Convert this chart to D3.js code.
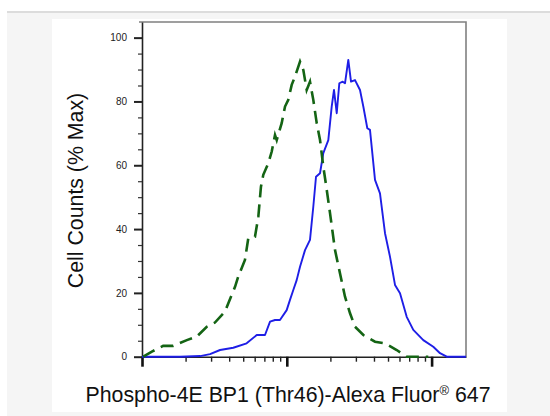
<!DOCTYPE html>
<html lang="en">
<head>
<meta charset="UTF-8">
<title>Phospho-4E BP1 (Thr46) flow histogram</title>
<script src="https://d3js.org/d3.v7.min.js"></script>
<style>
    body {
        margin: 0;
        padding: 0;
        background: #fff;
        overflow: hidden;
    }
    svg {
        display: block;
        font-family: "Liberation Sans", Arial, sans-serif;
    }
    .tick text {
        font-size: 10px;
        fill: #222;
    }
    .axis-title {
        font-size: 21.3px;
        fill: #111;
    }
</style>
</head>
<body>
<svg id="chart" width="550" height="416"></svg>
<script>
    // axis ticks
    const xMajorTicks = [100, 1000, 10000];
    const yTickLabels = [0, 20, 40, 60, 80, 100];

    // stained sample (solid blue) : fluorescence, % max
    const stainedX = [100, 183, 252, 295, 346, 427, 528, 620, 707, 766, 829, 897, 998, 1052, 1109, 1170, 1234, 1336, 1446, 1524, 1591, 1696, 1787, 1935, 2042, 2118, 2212, 2305, 2433, 2523, 2659, 2776, 2958, 3203, 3376, 3597, 3754, 4066, 4401, 4767, 5162, 5588, 6051, 6730, 7474, 8760, 10270, 11430, 12720, 14910, 17280];
    const stainedY = [0, 0, 0.2, 0.8, 2.1, 2.8, 4.2, 6.8, 6.8, 11, 11.5, 11.5, 14.6, 17.8, 20.9, 24, 28.2, 33.4, 36.6, 47, 56.4, 57.5, 63.8, 67.9, 78.4, 83.6, 76.3, 85.7, 86.2, 85.7, 93, 86.2, 86.7, 83.6, 78.4, 71.6, 71.1, 55.4, 51.2, 38.7, 31.3, 22.5, 19.9, 12.5, 8.4, 5.2, 3.1, 1.1, 0, 0, 0];

    // isotype control (dashed green)
    const controlX = [102, 117, 140, 164, 204, 239, 280, 319, 374, 394, 439, 462, 514, 542, 603, 636, 663, 688, 745, 787, 829, 852, 922, 972, 1024, 1081, 1139, 1234, 1300, 1372, 1446, 1524, 1609, 1696, 1787, 1887, 1988, 2153, 2331, 2523, 2733, 2958, 3376, 4066, 4767, 5741, 6730, 9490];
    const controlY = [0, 1.6, 3.4, 3.4, 5.2, 6.3, 9.4, 10.7, 14.1, 16.7, 21.9, 25.1, 30.3, 37.1, 37.6, 43.9, 53.3, 57, 60.6, 64.3, 69.5, 67.9, 73.2, 78.4, 80.5, 85.2, 87.8, 92.5, 89.9, 83.6, 86.2, 80.5, 73.2, 67.9, 59.6, 52.3, 45, 33.4, 26.1, 18.8, 13.6, 9.4, 6.8, 4.7, 4.2, 2.1, 0, 0];

    const plot = {left: 142, right: 466, top: 22, bottom: 356.7};
    const svg = d3.select("#chart");

    // grey card + white panel behind the figure
    svg.append("rect")
        .attr("x", 7).attr("y", 11)
        .attr("width", 543).attr("height", 405)
        .attr("fill", "#f5f5f5");
    svg.append("line")
        .attr("x1", 7).attr("x2", 550)
        .attr("y1", 12).attr("y2", 12)
        .attr("stroke", "#dcdcdc").attr("stroke-width", 2);
    svg.append("rect")
        .attr("x", 52).attr("y", 19)
        .attr("width", 455).attr("height", 393)
        .attr("fill", "#fff");

    const x = d3.scaleLog().domain([100, 17280]).range([plot.left, plot.right]);
    const y = d3.scaleLinear().domain([0, 104.9]).range([plot.bottom, plot.top]);

    // frame (top + right)
    svg.append("path")
        .attr("d", `M${plot.left - 3},${plot.top}H${plot.right}V${plot.bottom}`)
        .attr("fill", "none")
        .attr("stroke", "#808080")
        .attr("stroke-width", 1.6);

    // x axis: minor ticks first, then majors
    const xMinor = [];
    xMajorTicks.forEach(d => {
        for (let k = 2; k <= 9; k++) {
            if (d * k <= x.domain()[1]) xMinor.push(d * k);
        }
    });

    svg.append("g")
        .attr("transform", `translate(0,${plot.bottom})`)
        .call(d3.axisBottom(x).tickValues(xMinor).tickSize(5).tickSizeOuter(0).tickFormat(""))
        .call(g => g.selectAll("line").attr("stroke", "#222").attr("stroke-width", 1.4))
        .call(g => g.select(".domain").attr("stroke", "#222").attr("stroke-width", 1.6));

    svg.append("g")
        .attr("transform", `translate(0,${plot.bottom})`)
        .call(d3.axisBottom(x).tickValues(xMajorTicks).tickSize(10).tickSizeOuter(0).tickFormat(""))
        .call(g => g.select(".domain").remove())
        .call(g => g.selectAll("line").attr("stroke", "#111").attr("stroke-width", 2.6));

    // y axis: minor every 5, labelled majors every 20
    const yMinor = d3.range(0, 101, 5).filter(v => v % 20 !== 0);

    svg.append("g")
        .attr("transform", `translate(${plot.left},0)`)
        .call(d3.axisLeft(y).tickValues(yMinor).tickSize(4).tickSizeOuter(0).tickFormat(""))
        .call(g => g.selectAll("line").attr("stroke", "#333").attr("stroke-width", 1.2))
        .call(g => g.select(".domain").attr("stroke", "#222").attr("stroke-width", 1.6));

    svg.append("g")
        .attr("transform", `translate(${plot.left},0)`)
        .call(d3.axisLeft(y).tickValues(yTickLabels).tickSize(8).tickPadding(7))
        .call(g => g.select(".domain").remove())
        .call(g => g.selectAll("line").attr("stroke", "#222").attr("stroke-width", 2));

    // histograms
    const line = d3.line()
        .x(d => x(d[0]))
        .y(d => y(d[1]));

    svg.append("path")
        .datum(d3.zip(stainedX, stainedY))
        .attr("d", line)
        .attr("fill", "none")
        .attr("stroke", "#1e1ee6")
        .attr("stroke-width", 1.9)
        .attr("stroke-linejoin", "round");

    svg.append("path")
        .datum(d3.zip(controlX, controlY))
        .attr("d", line)
        .attr("fill", "none")
        .attr("stroke", "#146414")
        .attr("stroke-width", 2.6)
        .attr("stroke-dasharray", "13,7");

    // axis titles
    const xTitle = svg.append("text")
        .attr("class", "axis-title")
        .attr("x", 288)
        .attr("y", 401.5)
        .attr("text-anchor", "middle");
    xTitle.append("tspan").text("Phospho-4E BP1 (Thr46)-Alexa Fluor");
    xTitle.append("tspan").attr("font-size", 13).attr("dy", -7).text("®");
    xTitle.append("tspan").attr("dy", 7).text(" 647");

    svg.append("text")
        .attr("class", "axis-title")
        .attr("font-size", "21.8px")
        .attr("transform", "translate(83,190.5) rotate(-90)")
        .attr("text-anchor", "middle")
        .text("Cell Counts (% Max)");
</script>
</body>
</html>
